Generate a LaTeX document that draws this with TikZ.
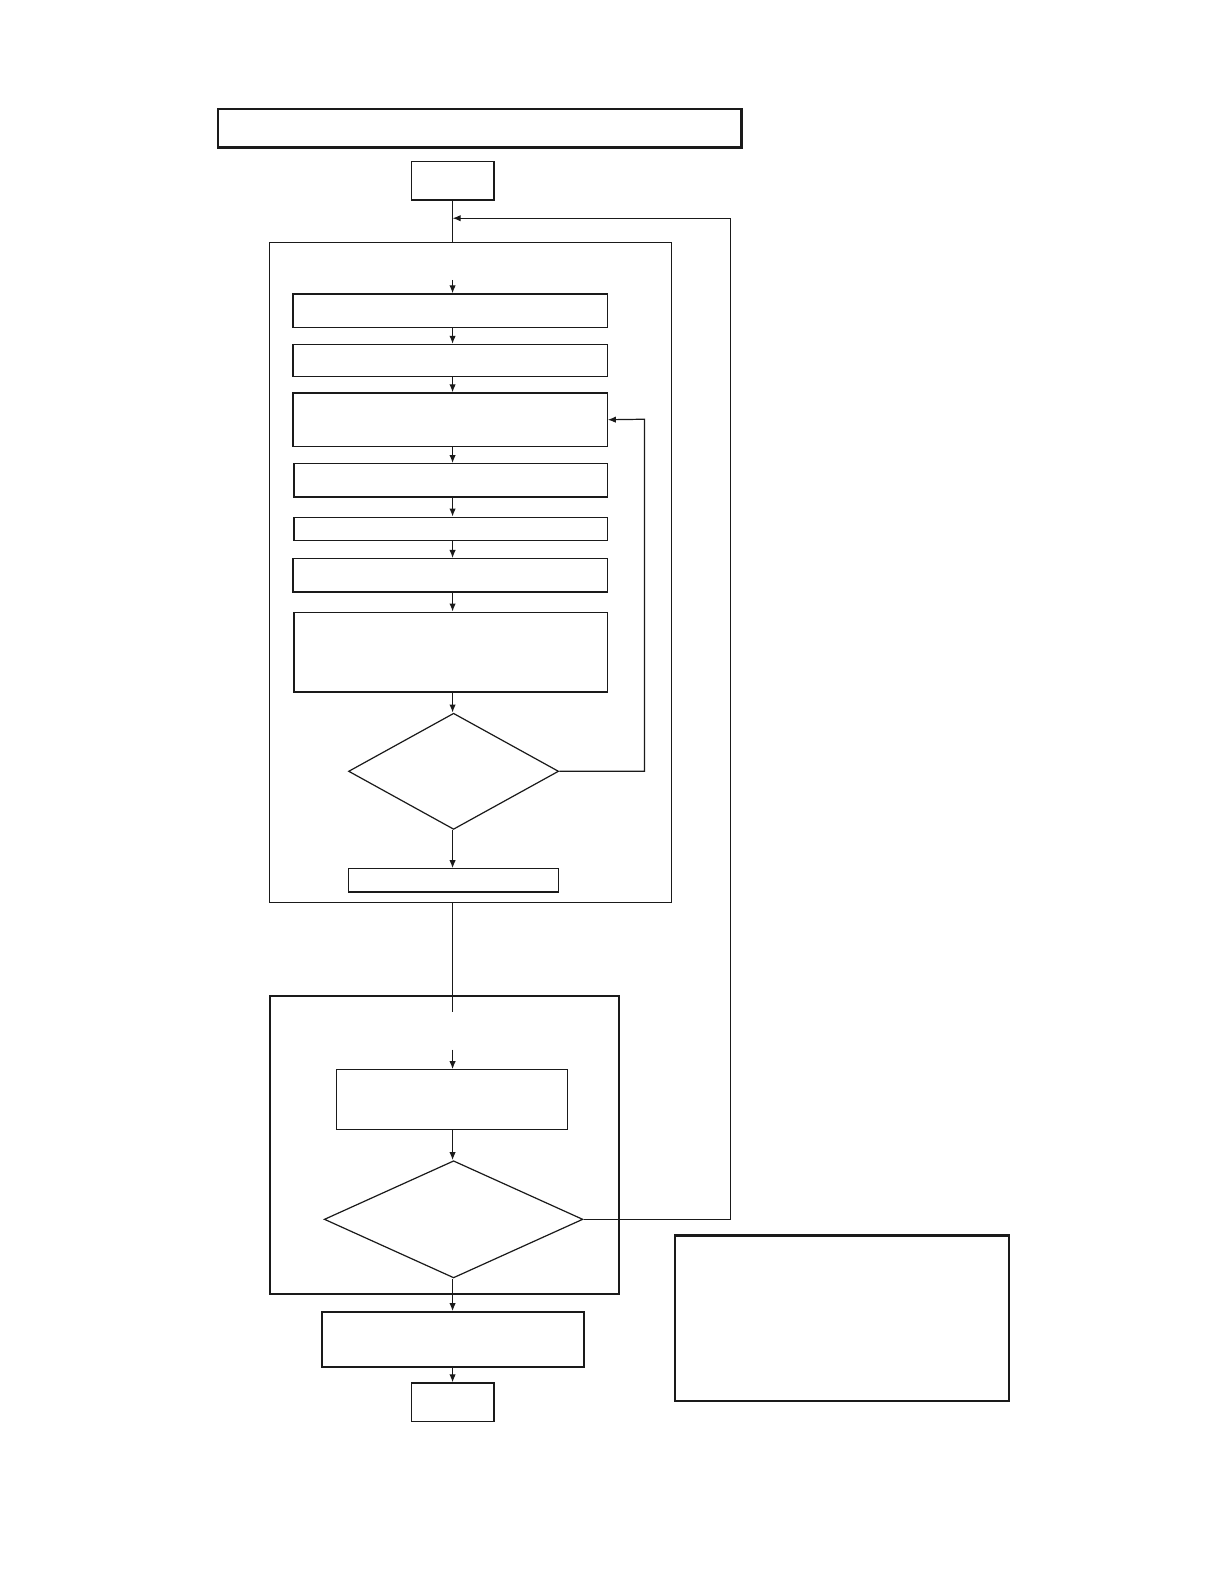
\documentclass[tikz,border=0pt]{standalone}
\usepackage{tikz}
\usetikzlibrary{shapes.geometric, arrows.meta, positioning, calc}
\usepackage{xcolor}
\definecolor{inkline}{HTML}{1A1A1A}

\tikzset{
    stepbox/.style={draw=inkline, line width=0.6pt, rectangle, inner sep=0pt},
    thickbox/.style={stepbox, line width=1.1pt},
    decision/.style={draw=inkline, line width=0.6pt, diamond, inner sep=0pt},
    arr/.style={draw=inkline, line width=0.6pt, -{Latex[length=4pt, width=3.2pt]}},
    plain/.style={draw=inkline, line width=0.6pt}
}

\begin{document}
\begin{tikzpicture}[x=0.5pt, y=-0.5pt]
            \useasboundingbox (0,0) rectangle (1208,1568);
            \coordinate (spine) at (448,0);

            % header and start
            \node[thickbox, minimum width=259pt, minimum height=19pt] (title) at (475,127) {};
            \node[stepbox, minimum width=41pt, minimum height=19pt] (start) at (448,179) {};

            % first block
            \node[stepbox, minimum width=199pt, minimum height=326.5pt] (outerA) at (466,566.5) {};
            \node[stepbox, minimum width=155.5pt, minimum height=16.5pt] (A) at (445.5,307.5) {};
            \node[stepbox, minimum width=155.5pt, minimum height=16pt] (B) at (445.5,357) {};
            \node[stepbox, minimum width=155.5pt, minimum height=26.5pt] (C) at (445.5,415.5) {};
            \node[stepbox, minimum width=155pt, minimum height=16.5pt] (D) at (446,475.5) {};
            \node[stepbox, minimum width=155pt, minimum height=11.5pt] (E) at (446,523.5) {};
            \node[stepbox, minimum width=155.5pt, minimum height=16.5pt] (F) at (445.5,569.5) {};
            \node[stepbox, minimum width=155pt, minimum height=39.5pt] (G) at (446,645.5) {};
            \node[decision, minimum width=104pt, minimum height=57.5pt] (checkA) at (449,763.5) {};
            \node[stepbox, minimum width=104pt, minimum height=11.5pt] (H) at (449,871.5) {};

            % second block
            \node[stepbox, line width=0.9pt, minimum width=173pt, minimum height=147.5pt] (outerB) at (440,1133.5) {};
            \node[stepbox, minimum width=114.5pt, minimum height=29.5pt] (I) at (447.5,1088.5) {};
            \node[decision, minimum width=128pt, minimum height=58pt] (checkB) at (449,1207) {};

            % end part
            \node[thickbox, minimum width=129.5pt, minimum height=27pt] (J) at (448.5,1326) {};
            \node[stepbox, minimum width=41pt, minimum height=19pt] (stop) at (448,1388) {};
            \node[thickbox, minimum width=165.5pt, minimum height=82pt] (note) at (833.5,1305) {};

            % connectors
            \coordinate (inA) at (448,277);
            \coordinate (outA) at (448,1002);
            \coordinate (inB) at (448,1039);
            \coordinate (loopA) at (638,415);
            \coordinate (loopB) at (723,216);

            \draw[plain] (start.south) -- (spine |- outerA.north);
            \draw[arr] (inA) -- (spine |- A.north);
            \foreach \a/\b in {A/B, B/C, C/D, D/E, E/F, F/G, G/checkA, checkA/H}
                \draw[arr] (spine |- \a.south) -- (spine |- \b.north);
            \draw[arr] (checkA.east) -| (loopA) -- (C.east);

            \draw[plain] (spine |- outerA.south) -- (outA);
            \draw[arr] (inB) -- (spine |- I.north);
            \foreach \a/\b in {I/checkB, checkB/J, J/stop}
                \draw[arr] (spine |- \a.south) -- (spine |- \b.north);
            \draw[arr] (checkB.east) -| (loopB) -- (spine |- loopB);
        \end{tikzpicture}
\end{document}
